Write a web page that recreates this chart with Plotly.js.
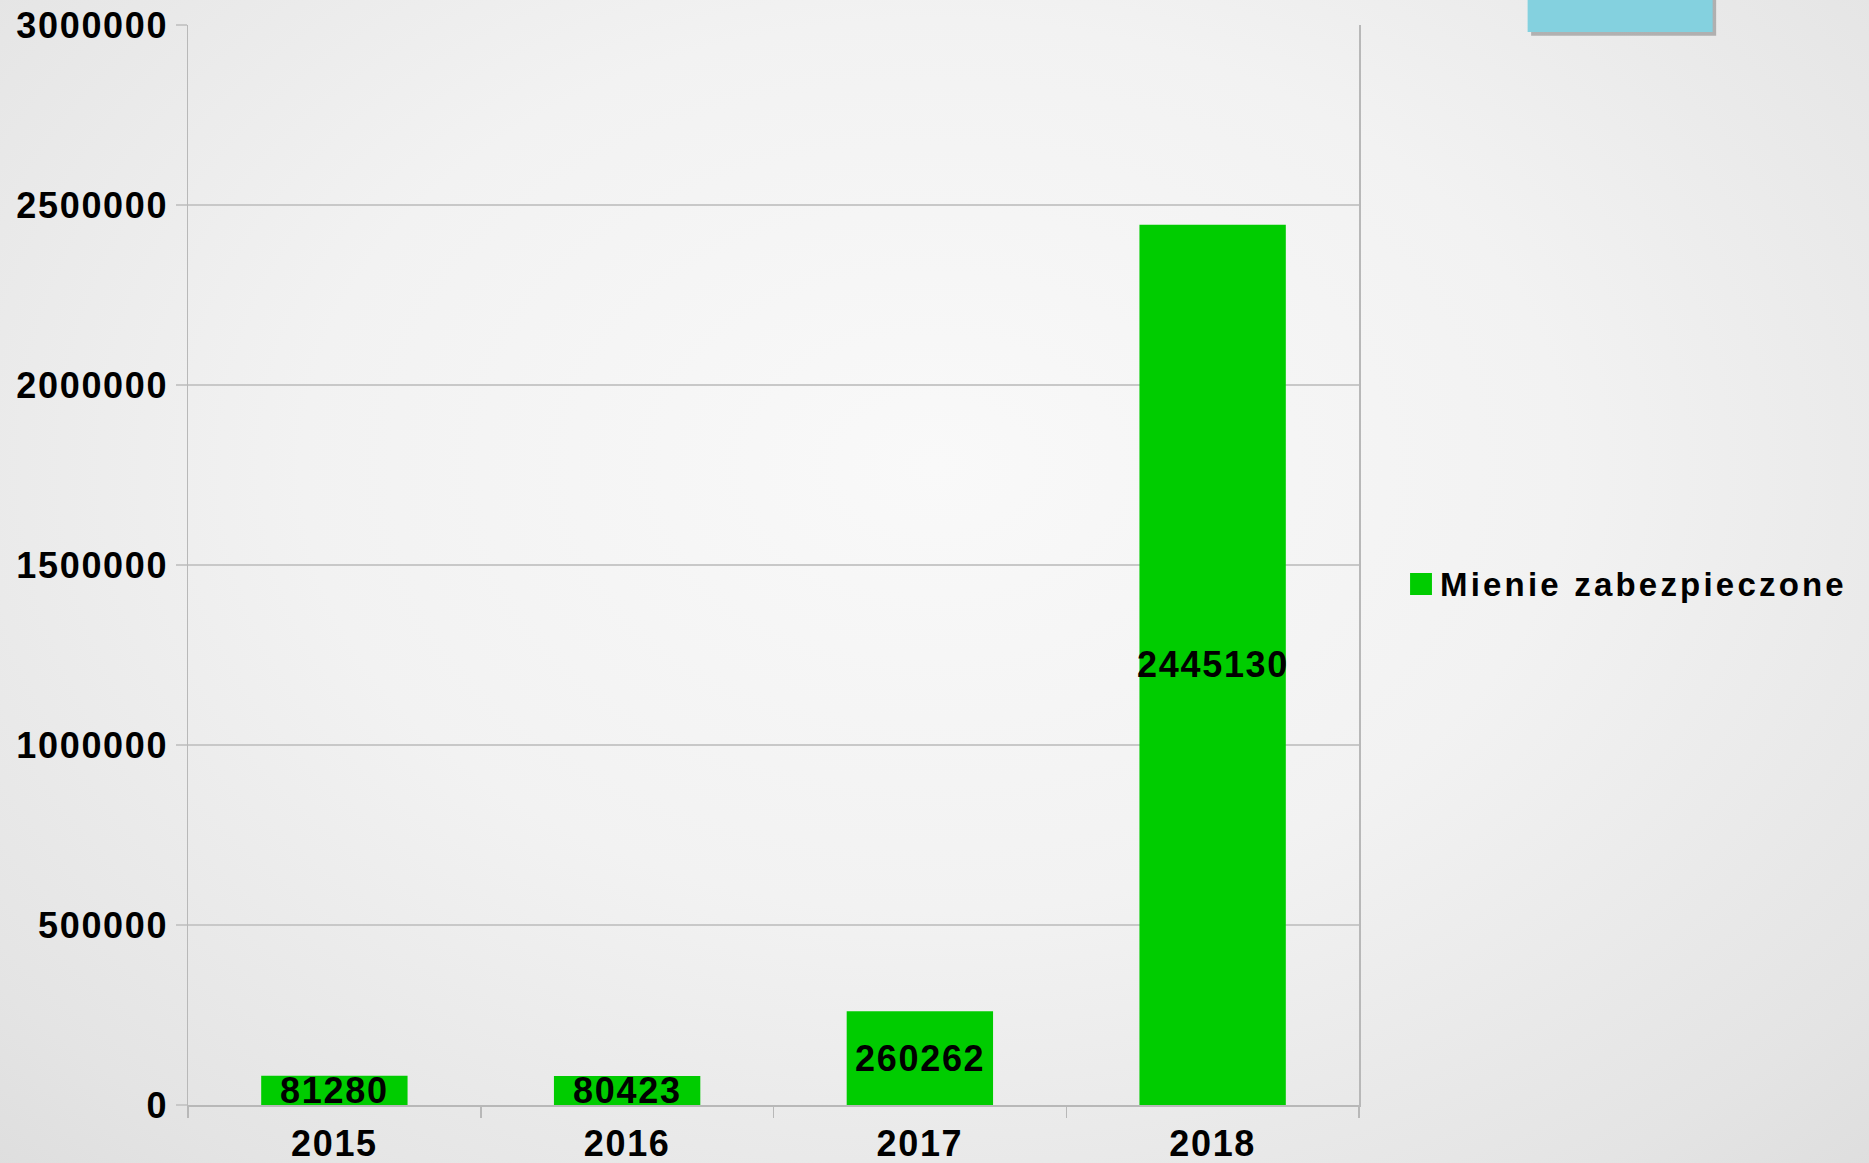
<!DOCTYPE html>
<html>
<head>
<meta charset="utf-8">
<script src="https://cdn.plot.ly/plotly-3.0.1.min.js"></script>
<style>
  html, body { margin: 0; padding: 0; width: 1869px; height: 1163px; overflow: hidden; }
  body { background: radial-gradient(ellipse 75% 85% at 50% 40%, #f9f9f9 0%, #f2f2f2 45%, #e4e4e4 85%, #dddddd 100%); }
  #chart { width: 1869px; height: 1163px; }
  .xtick text, .ytick text, .annotation-text { letter-spacing: 1.7px; }
  g.annotation[data-index="4"] .annotation-text { letter-spacing: 3.2px; }
</style>
</head>
<body>
<div id="chart"></div>
<script>
const years = ['2015', '2016', '2017', '2018'];
const values = [81280, 80423, 260262, 2445130];
const seriesName = 'Mienie zabezpieczone';
const yTicks = [0, 500000, 1000000, 1500000, 2000000, 2500000, 3000000];

const FONT = 'Liberation Sans, Arial, sans-serif';
const BAR_COLOR = '#00cc00';

const trace = {
  type: 'bar',
  x: years,
  y: values,
  name: seriesName,
  marker: { color: BAR_COLOR },
  showlegend: false,
  hoverinfo: 'x+y'
};

// data labels centred in each bar (category index positions)
const annotations = years.map((yr, i) => ({
  x: i, y: values[i] / 2, xref: 'x', yref: 'y',
  text: String(values[i]), showarrow: false,
  xanchor: 'center', yanchor: 'middle',
  font: { family: FONT, size: 36, color: '#000000', weight: 'bold' }
}));

// legend entry text
annotations.push({
  x: 1.080, y: 0.4815, xref: 'paper', yref: 'paper',
  text: seriesName, showarrow: false,
  xanchor: 'left', yanchor: 'middle',
  font: { family: FONT, size: 33, color: '#000000', weight: 'bold' }
});

const layout = {
  width: 1869, height: 1163,
  margin: { l: 188, r: 510, t: 25, b: 58 },
  paper_bgcolor: 'rgba(0,0,0,0)',
  plot_bgcolor: 'rgba(0,0,0,0)',
  bargap: 0.5,
  font: { family: FONT, color: '#000000' },
  showlegend: false,
  xaxis: {
    type: 'category',
    range: [-0.5, years.length - 0.5],
    showgrid: false,
    showline: true, linecolor: '#b8b8b8', linewidth: 1.5,
    ticks: 'outside', tickson: 'boundaries', ticklen: 11, tickcolor: '#b8b8b8', tickwidth: 1.5,
    ticklabelstandoff: 6,
    tickfont: { family: FONT, size: 36, color: '#000000', weight: 'bold' },
    zeroline: false
  },
  yaxis: {
    range: [0, 3000000],
    tickvals: yTicks,
    ticktext: yTicks.map(String),
    showgrid: true, gridcolor: '#c8c8c8', gridwidth: 1.5,
    showline: true, mirror: true, linecolor: '#b8b8b8', linewidth: 1.5,
    ticks: 'outside', ticklen: 11, tickcolor: '#c8c8c8', tickwidth: 1.5,
    tickfont: { family: FONT, size: 36, color: '#000000', weight: 'bold' },
    zeroline: false
  },
  annotations: annotations,
  shapes: [
    // legend swatch
    { type: 'rect', xref: 'paper', yref: 'paper', x0: 1.0436, x1: 1.0623, y0: 0.4722, y1: 0.4926,
      fillcolor: BAR_COLOR, line: { width: 0 } },
    // decorative blue box (with shadow) at top right
    { type: 'rect', xref: 'paper', yref: 'paper', x0: 1.147, x1: 1.305, y0: 0.990, y1: 1.03,
      fillcolor: 'rgba(90,90,90,0.4)', line: { width: 0 } },
    { type: 'rect', xref: 'paper', yref: 'paper', x0: 1.144, x1: 1.302, y0: 0.9935, y1: 1.03,
      fillcolor: '#84d1df', line: { width: 0 } }
  ]
};

Plotly.newPlot('chart', [trace], layout, { displayModeBar: false, staticPlot: true });
</script>
</body>
</html>
